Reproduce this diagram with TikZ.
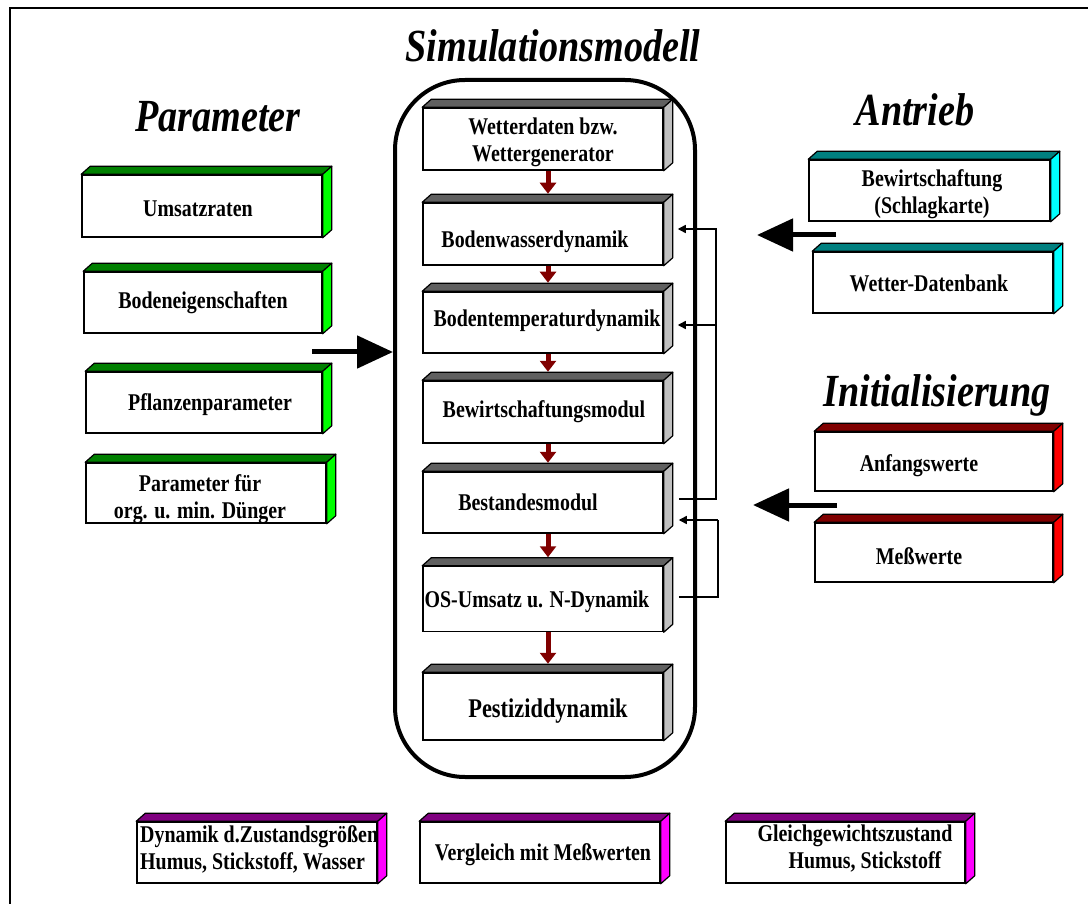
\documentclass[tikz,border=0pt]{standalone}
\usepackage{fontspec}
\setmainfont{Liberation Serif}[FakeStretch=0.83]
\usetikzlibrary{arrows.meta,calc}

\definecolor{gtop}{RGB}{0,128,0}
\definecolor{gside}{RGB}{0,255,0}
\definecolor{ctop}{RGB}{96,96,96}
\definecolor{cside}{RGB}{192,192,192}
\definecolor{ttop}{RGB}{0,128,128}
\definecolor{tside}{RGB}{0,255,255}
\definecolor{rtop}{RGB}{128,0,0}
\definecolor{rside}{RGB}{255,0,0}
\definecolor{ptop}{RGB}{128,0,128}
\definecolor{pside}{RGB}{255,0,255}
\definecolor{flow}{RGB}{128,0,0}

\tikzset{
  front/.style={draw=black, line width=1.5pt, fill=white, inner sep=0pt},
  facet/.style={draw=black, line width=1.2pt, line join=round},
  boxtext/.style={font=\fontsize{24}{27}\selectfont\bfseries, align=center, inner sep=0pt},
  bigtext/.style={boxtext, font=\fontsize{27}{30}\selectfont\bfseries},
  title/.style={font=\fontsize{46}{50}\selectfont\bfseries\itshape, inner sep=0pt, anchor=base},
  bigarrow/.style={line width=5pt, -{Triangle[length=36pt,width=32pt]}},
  flowarrow/.style={draw=flow, line width=5pt, -{Triangle[length=11pt,width=16pt]}},
  looparrow/.style={line width=1.5pt, -{Triangle[length=8pt,width=8pt]}},
  simframe/.style={draw=black, line width=4pt, rounded corners=70pt, inner sep=0pt},
}

% solid box: name, centre x, centre y, width, height, top colour, side colour
\newcommand\solidbox[7]{%
  \node[front, minimum width=#4pt, minimum height=#5pt] (#1) at (#2,#3) {};
  \filldraw[facet, fill=#6] (#1.north west) -- ++(9,-8) -- ($(#1.north east)+(9,-8)$) -- (#1.north east) -- cycle;
  \filldraw[facet, fill=#7] (#1.north east) -- ++(9,-8) -- ($(#1.south east)+(9,-8)$) -- (#1.south east) -- cycle;
}

\begin{document}
\begin{tikzpicture}[x=1pt,y=-1pt]
\useasboundingbox (0,0) rectangle (1088,904);

% page frame
\draw[line width=2.5pt] (10,904) -- (10,8) -- (1088,8);

% titles
\node[title] (ttl-sim) at (553,62) {Simulationsmodell};
\node[title] (ttl-par) at (218,132) {Parameter};
\node[title] (ttl-ant) at (915,126) {Antrieb};
\node[title] (ttl-ini) at (937,406) {Initialisierung};

% simulation model frame
\node[simframe, minimum width=300pt, minimum height=697pt] (sim) at (545,428.5) {};

% parameter boxes
\solidbox{umsatz}{202}{206}{240}{62}{gtop}{gside}
\solidbox{boden}{203}{302.5}{238}{61}{gtop}{gside}
\solidbox{pflanze}{204}{402.5}{236}{61}{gtop}{gside}
\solidbox{duenger}{206}{493}{240}{60}{gtop}{gside}
\node[boxtext] (t-umsatz) at (198,209) {Umsatzraten};
\node[boxtext] (t-boden) at (203,303) {Bodeneigenschaften};
\node[boxtext] (t-pflanze) at (210,405) {Pflanzenparameter};
\node[boxtext] (t-duenger) at (200,499) {Parameter für\\org. u. min. Dünger};

% model modules
\solidbox{wetter}{543}{139}{240}{62}{ctop}{cside}
\solidbox{bwasser}{543}{234}{240}{62}{ctop}{cside}
\solidbox{btemp}{543}{322.5}{240}{61}{ctop}{cside}
\solidbox{bewmod}{543}{412}{240}{62}{ctop}{cside}
\solidbox{bestand}{543}{502.5}{240}{61}{ctop}{cside}
\solidbox{os}{543}{599}{240}{65}{ctop}{cside}
\solidbox{pest}{543}{706.5}{240}{67}{ctop}{cside}
\node[boxtext] (t-wetter) at (543,142) {Wetterdaten bzw.\\Wettergenerator};
\node[boxtext] (t-bwasser) at (535,242) {Bodenwasserdynamik};
\node[boxtext] (t-btemp) at (547,321) {Bodentemperaturdynamik};
\node[boxtext] (t-bewmod) at (544,412) {Bewirtschaftungsmodul};
\node[boxtext] (t-bestand) at (528,502) {Bestandesmodul};
\node[boxtext] (t-os) at (537,602) {OS-Umsatz u. N-Dynamik};
\node[bigtext] (t-pest) at (548,711) {Pestiziddynamik};

% driving data
\solidbox{schlag}{929.5}{190.5}{241}{61}{ttop}{tside}
\solidbox{wdb}{933}{282.5}{240}{61}{ttop}{tside}
\node[boxtext] (t-schlag) at (932,194) {Bewirtschaftung\\(Schlagkarte)};
\node[boxtext] (t-wdb) at (929,283) {Wetter-Datenbank};

% initial values
\solidbox{anfang}{934}{461.5}{238}{59}{rtop}{rside}
\solidbox{mess}{934}{552.5}{238}{59}{rtop}{rside}
\node[boxtext] (t-anfang) at (919,466) {Anfangswerte};
\node[boxtext] (t-mess) at (919,556) {Meßwerte};

% results
\solidbox{dyn}{257}{852.5}{240}{61}{ptop}{pside}
\solidbox{vergl}{540}{852.5}{240}{61}{ptop}{pside}
\solidbox{gleich}{845.5}{852.5}{239}{61}{ptop}{pside}
\node[boxtext, align=left, anchor=west] (t-dyn) at (140,849) {Dynamik d.Zustandsgrößen\\Humus, Stickstoff, Wasser};
\node[boxtext] (t-vergl) at (543,855) {Vergleich mit Meßwerten};
\node[boxtext] (t-gleich) at (855,849) {Gleichgewichtszustand\\\hspace*{20pt}Humus, Stickstoff};

% inputs into the model
\coordinate (par-out) at (312,352);
\draw[bigarrow] (par-out) -- (par-out -| sim.west);
\coordinate (ant-out) at (836,235);
\coordinate (ant-in) at (757,235);
\draw[bigarrow] (ant-out) -- (ant-in);
\coordinate (ini-out) at (837,505);
\coordinate (ini-in) at (753,505);
\draw[bigarrow] (ini-out) -- (ini-in);

% module sequence
\draw[flowarrow] ([xshift=5pt]wetter.south) -- ([xshift=5pt,yshift=8.5pt]bwasser.north);
\draw[flowarrow] ([xshift=5pt]bwasser.south) -- ([xshift=5pt,yshift=8.5pt]btemp.north);
\draw[flowarrow] ([xshift=5pt]btemp.south) -- ([xshift=5pt,yshift=8.5pt]bewmod.north);
\draw[flowarrow] ([xshift=5pt]bewmod.south) -- ([xshift=5pt,yshift=8.5pt]bestand.north);
\draw[flowarrow] ([xshift=5pt]bestand.south) -- ([xshift=5pt,yshift=8.5pt]os.north);
\draw[flowarrow] ([xshift=5pt]os.south) -- ([xshift=5pt,yshift=8.5pt]pest.north);

% feedback loops
\coordinate (bestand-out) at ($(bestand.east)+(15,-3.5)$);
\coordinate (bwasser-in) at ($(bwasser.east)+(14,-5)$);
\coordinate (btemp-in) at ($(btemp.east)+(14,2.5)$);
\coordinate (loop1) at (716,229);
\draw[looparrow] (bestand-out) -| (loop1) -- (bwasser-in);
\draw[looparrow] (loop1 |- btemp-in) -- (btemp-in);
\coordinate (os-out) at ($(os.east)+(15,-2)$);
\coordinate (bestand-in) at ($(bestand.east)+(15,17.5)$);
\coordinate (loop2) at (718,520);
\draw[line width=1.5pt] (os-out) -| (loop2);
\draw[looparrow] (loop2) -- (bestand-in);
\end{tikzpicture}
\end{document}
